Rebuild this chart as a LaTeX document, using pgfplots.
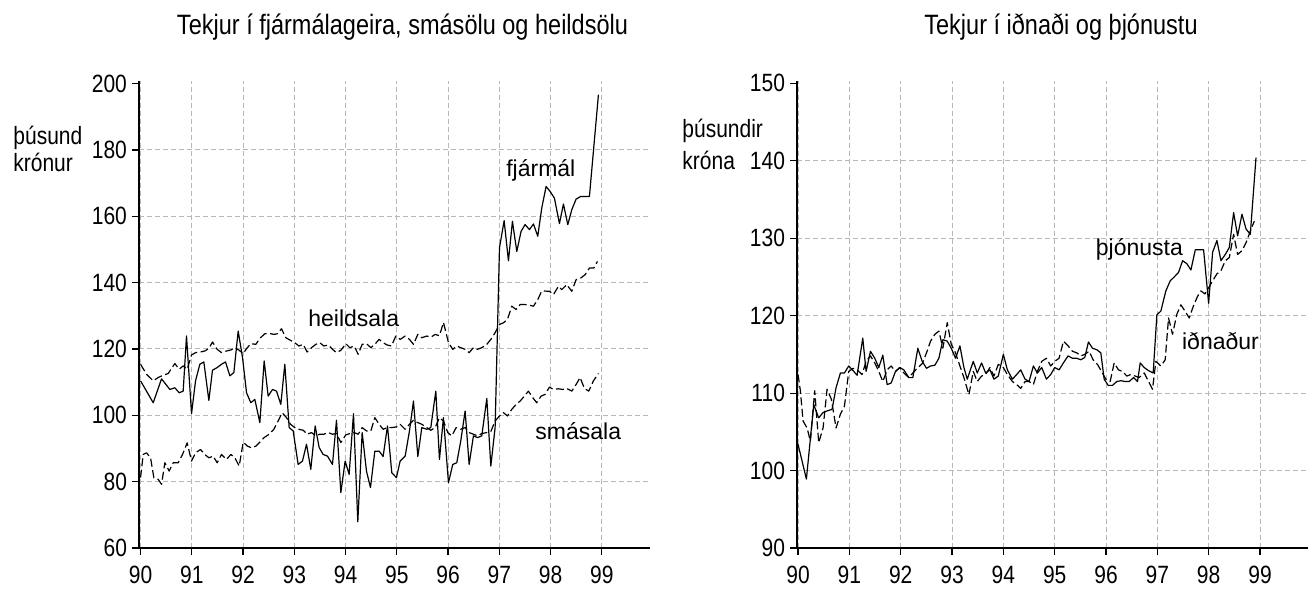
\documentclass[border=0pt]{standalone}
\usepackage{fontspec}
\setmainfont{Liberation Sans}
\newfontfamily\cond{Liberation Sans}[FakeStretch=0.84]
\usepackage{pgfplots}
\usepackage{pgfplotstable}
\pgfplotsset{compat=1.18}

\pgfplotstableread{
x y
90.000 110.4
90.247 103.8
90.410 111.0
90.572 107.8
90.670 108.3
90.754 106.8
90.832 107.3
90.897 123.9
90.995 100.5
91.073 110.4
91.157 115.4
91.235 116.1
91.333 104.5
91.404 113.6
91.495 114.4
91.580 115.4
91.658 116.1
91.743 111.9
91.821 112.9
91.905 125.4
91.990 117.4
92.068 106.8
92.152 103.8
92.230 104.8
92.328 97.8
92.412 116.4
92.490 105.8
92.575 107.8
92.653 107.3
92.737 103.3
92.815 115.4
92.900 96.3
92.978 95.3
93.075 85.2
93.160 86.2
93.238 91.3
93.322 83.7
93.407 96.8
93.485 90.3
93.563 88.2
93.648 87.7
93.745 85.2
93.823 98.5
93.908 76.7
93.992 86.2
94.070 82.2
94.155 100.5
94.239 67.9
94.324 94.8
94.408 83.2
94.486 78.2
94.571 89.2
94.655 89.2
94.733 87.6
94.818 96.8
94.902 82.7
94.993 81.2
95.065 86.2
95.163 87.7
95.247 95.3
95.325 104.3
95.410 87.6
95.488 96.3
95.585 95.8
95.663 96.3
95.761 107.3
95.832 86.7
95.910 99.3
96.008 79.7
96.092 85.2
96.170 85.7
96.248 92.3
96.333 101.3
96.411 85.2
96.495 93.8
96.573 93.3
96.658 93.8
96.756 105.1
96.834 84.7
96.918 96.3
97.003 150.5
97.094 158.7
97.178 146.6
97.256 158.5
97.341 149.4
97.425 155.5
97.503 157.5
97.588 156.0
97.666 157.7
97.750 154.0
97.828 162.5
97.913 169.0
97.991 167.5
98.075 165.5
98.173 157.8
98.251 163.7
98.336 157.5
98.414 162.0
98.498 165.2
98.589 166.0
98.674 166.0
98.758 166.0
98.934 196.7
}\fjarmal

\pgfplotstableread{
x y
90.000 115.4
90.117 112.4
90.247 110.4
90.345 111.4
90.442 112.1
90.540 112.6
90.605 114.2
90.670 115.6
90.754 113.9
90.832 114.9
90.910 113.9
90.995 118.2
91.073 118.9
91.170 119.1
91.255 119.4
91.333 120.2
91.404 122.1
91.495 119.9
91.580 118.9
91.678 119.4
91.762 119.7
91.840 120.4
91.925 119.6
92.003 118.6
92.068 120.1
92.152 121.6
92.250 121.4
92.328 123.2
92.425 124.6
92.510 124.7
92.601 124.4
92.672 124.6
92.750 126.1
92.835 123.4
92.926 122.6
93.010 121.9
93.088 120.9
93.173 121.4
93.251 119.1
93.336 120.4
93.420 121.4
93.498 121.9
93.576 120.9
93.661 121.2
93.745 119.9
93.823 118.9
93.908 119.6
94.005 121.6
94.083 120.4
94.168 120.9
94.246 118.4
94.324 121.4
94.408 121.6
94.493 120.4
94.571 121.4
94.655 122.9
94.733 121.9
94.811 121.2
94.896 120.9
94.980 123.9
95.065 122.9
95.163 123.9
95.247 122.9
95.325 121.4
95.410 124.4
95.488 123.4
95.585 123.9
95.670 123.6
95.748 124.4
95.832 124.0
95.910 128.0
96.008 121.9
96.092 119.9
96.170 120.9
96.248 120.4
96.333 119.9
96.411 118.9
96.495 120.4
96.573 119.9
96.658 120.4
96.756 121.4
96.834 122.9
96.918 124.9
97.003 127.4
97.081 127.9
97.159 128.9
97.243 132.9
97.328 131.9
97.406 133.4
97.503 133.4
97.588 133.2
97.666 132.9
97.750 134.9
97.828 137.5
97.978 137.4
98.056 136.4
98.153 138.9
98.218 137.9
98.316 139.4
98.414 137.4
98.498 140.9
98.589 141.4
98.674 142.4
98.758 144.4
98.843 144.4
98.915 146.4
}\heildsala

\pgfplotstableread{
x y
90.000 81.2
90.052 88.2
90.117 88.7
90.195 87.2
90.260 81.2
90.345 80.7
90.410 79.2
90.475 85.7
90.559 83.2
90.637 85.7
90.735 85.7
90.819 88.2
90.910 91.7
90.995 86.2
91.073 88.7
91.170 89.7
91.255 88.2
91.333 87.2
91.417 87.7
91.495 85.7
91.580 88.2
91.678 86.7
91.762 88.2
91.840 87.2
91.925 84.7
92.003 91.9
92.087 90.7
92.165 90.2
92.250 90.7
92.328 91.9
92.412 93.3
92.510 94.3
92.601 95.8
92.685 98.3
92.763 100.8
92.848 99.3
92.926 97.3
93.010 96.3
93.088 95.8
93.173 95.5
93.251 94.3
93.336 94.8
93.420 93.8
93.498 94.3
93.576 94.3
93.661 94.8
93.745 94.3
93.823 94.5
93.908 91.8
94.005 94.1
94.083 94.5
94.168 94.8
94.246 94.3
94.324 96.3
94.408 95.3
94.493 95.3
94.571 99.3
94.655 97.3
94.733 95.8
94.811 96.3
94.896 96.3
94.993 96.5
95.065 97.3
95.163 95.8
95.247 97.3
95.325 98.5
95.410 97.8
95.488 97.3
95.585 96.3
95.663 95.5
95.748 96.3
95.832 99.3
95.910 98.3
95.995 94.8
96.073 93.8
96.157 96.3
96.248 95.8
96.333 96.3
96.411 94.8
96.495 94.3
96.573 93.8
96.658 94.5
96.756 94.8
96.834 95.1
96.918 98.3
97.003 99.8
97.081 100.8
97.159 99.8
97.243 101.8
97.328 103.3
97.406 104.3
97.490 105.8
97.568 107.3
97.653 105.3
97.731 103.8
97.815 105.8
97.893 106.3
97.978 108.5
98.056 107.8
98.153 108.0
98.238 107.8
98.316 108.1
98.414 107.3
98.498 109.3
98.576 111.4
98.661 108.1
98.745 107.3
98.836 110.4
98.934 112.6
}\smasala

\pgfplotstableread{
x y
90.000 103.4
90.163 98.9
90.306 108.5
90.403 106.8
90.488 107.5
90.566 107.7
90.663 107.9
90.741 110.7
90.826 112.6
90.904 112.6
90.988 113.5
91.073 112.9
91.151 112.3
91.261 117.1
91.326 112.8
91.411 115.4
91.495 114.5
91.573 113.3
91.652 114.9
91.736 111.1
91.814 111.3
91.899 112.8
91.983 113.3
92.061 113.0
92.159 112.0
92.237 112.0
92.334 115.8
92.419 114.1
92.503 113.2
92.581 113.5
92.666 113.6
92.744 114.5
92.822 116.9
92.907 116.7
92.985 115.8
93.069 114.5
93.154 116.1
93.232 113.3
93.297 111.8
93.414 114.1
93.492 112.6
93.576 113.9
93.654 112.6
93.739 113.0
93.817 111.8
93.901 112.2
94.000 115.0
94.078 113.0
94.176 111.8
94.260 112.4
94.338 113.0
94.423 111.8
94.501 111.5
94.585 113.5
94.663 112.6
94.748 113.3
94.839 111.8
94.923 112.4
95.001 113.3
95.086 113.0
95.170 113.9
95.261 114.8
95.346 114.5
95.430 114.5
95.508 114.3
95.586 114.6
95.658 116.6
95.736 115.8
95.821 115.6
95.899 115.2
95.964 111.8
96.042 111.0
96.126 111.0
96.211 111.5
96.289 111.6
96.373 111.5
96.451 111.5
96.536 112.0
96.614 111.5
96.666 113.9
96.744 113.3
96.828 112.9
96.919 112.6
96.991 120.1
97.069 120.6
97.166 123.2
97.251 124.5
97.329 125.0
97.414 125.6
97.492 127.1
97.576 126.7
97.654 125.9
97.739 128.5
97.817 128.5
97.901 128.5
97.999 121.6
98.077 128.2
98.161 129.7
98.239 127.1
98.324 127.9
98.402 128.8
98.486 133.3
98.564 130.3
98.649 133.1
98.727 131.2
98.811 130.5
98.922 140.4
}\thjonusta

\pgfplotstableread{
x y
90.000 112.4
90.046 110.3
90.098 106.4
90.176 105.5
90.241 103.8
90.325 110.3
90.403 103.6
90.488 105.5
90.566 110.5
90.650 109.2
90.741 105.5
90.826 107.3
90.904 108.3
90.988 112.8
91.073 113.2
91.151 113.0
91.248 112.4
91.326 114.1
91.411 114.8
91.495 113.9
91.573 112.8
91.652 111.5
91.736 113.0
91.814 113.5
91.899 112.8
91.983 113.3
92.061 112.6
92.159 112.0
92.237 112.6
92.321 113.2
92.419 113.8
92.503 115.2
92.581 116.7
92.666 117.6
92.744 118.0
92.822 115.8
92.907 119.1
92.985 116.3
93.069 115.2
93.154 113.5
93.232 112.0
93.329 109.8
93.414 112.8
93.492 111.5
93.576 112.2
93.654 112.4
93.739 113.3
93.817 112.2
93.901 113.7
94.000 113.3
94.078 112.4
94.176 111.5
94.260 111.1
94.338 110.6
94.423 111.5
94.501 111.5
94.585 111.1
94.663 112.8
94.748 114.1
94.839 114.5
94.923 113.5
95.001 114.1
95.086 114.5
95.170 116.7
95.261 116.1
95.346 115.4
95.430 115.2
95.508 114.8
95.586 115.0
95.671 115.4
95.749 114.3
95.834 113.7
95.912 112.8
95.996 111.8
96.081 111.5
96.159 113.9
96.243 113.0
96.321 112.8
96.406 112.2
96.484 112.4
96.568 112.2
96.646 112.0
96.744 112.6
96.828 111.5
96.906 110.5
96.971 114.1
97.069 113.5
97.153 114.3
97.218 119.7
97.296 117.6
97.381 120.2
97.459 121.4
97.537 120.6
97.622 119.7
97.700 121.2
97.784 122.5
97.849 123.2
97.927 122.8
98.077 124.5
98.161 125.4
98.239 125.8
98.324 127.1
98.402 127.5
98.486 130.5
98.564 127.9
98.649 128.4
98.727 129.4
98.811 130.9
98.889 132.2
}\idnadur

\tikzset{
  lab/.style={font=\fontsize{11.5pt}{13pt}\selectfont, inner sep=0pt},
  unit/.style={anchor=base west, inner sep=0pt, font=\cond\fontsize{12.5pt}{14pt}\selectfont},
  ttl/.style={anchor=base, inner sep=0pt, font=\cond\fontsize{14pt}{16pt}\selectfont},
}
\pgfplotsset{
  panel/.style={
    scale only axis, width=255.5pt, height=233.5pt, anchor=south west,
    axis x line*=bottom, axis y line*=left,
    axis line style={line width=1.2pt, black, -},
    tick align=outside, major tick length=3.5pt,
    tick style={black, line width=0.6pt},
    xtick={90,...,99},
    xmajorgrids=true, ymajorgrids=true,
    major grid style={black!28, line width=0.5pt, dash pattern=on 2.5pt off 1.5pt},
    ticklabel style={font=\cond\fontsize{12.5pt}{14pt}\selectfont},
    xticklabel style={yshift=-2pt},
    yticklabel style={xshift=1pt},
    /pgf/number format/assume math mode=true,
    /pgf/number format/1000 sep={},
    extra tick style={grid=none},
    clip=false,
  },
  ser/.style={black, line width=0.6pt, line join=round},
  dser/.style={black, line width=0.6pt, line join=round, dash pattern=on 4pt off 1.75pt},
}

\begin{document}
\begin{tikzpicture}
\begin{axis}[panel, at={(69.5pt,21pt)},
  xmin=89.97, xmax=99.94, ymin=60, ymax=200.8,
  ytick={60,80,...,180}, extra y ticks={200}]
\addplot[ser] table {\fjarmal};
\addplot[dser] table {\heildsala};
\addplot[dser] table {\smasala};
\node[lab] at (axis cs:97.81,173.7) {fjármál};
\node[lab] at (axis cs:94.16,129.4) {heildsala};
\node[lab] at (axis cs:98.54,95.2) {smásala};
\end{axis}
\begin{axis}[panel, at={(398.5pt,21pt)},
  xmin=89.98, xmax=99.935, ymin=90, ymax=150.3,
  ytick={90,100,...,140}, extra y ticks={150}]
\addplot[ser] table {\thjonusta};
\addplot[dser] table {\idnadur};
\node[lab] at (axis cs:96.65,128.6) {þjónusta};
\node[lab] at (axis cs:98.23,116.7) {iðnaður};
\end{axis}
\node[ttl] at (201.25pt,277.5pt) {Tekjur í fjármálageira, smásölu og heildsölu};
\node[ttl] at (530.5pt,277.5pt) {Tekjur í iðnaði og þjónustu};
\node[unit] at (6.5pt,222.5pt) {þúsund};
\node[unit] at (6.5pt,209pt) {krónur};
\node[unit] at (341pt,226pt) {þúsundir};
\node[unit] at (341pt,210pt) {króna};
\pgfresetboundingbox
\useasboundingbox (0,0) rectangle (656.5pt,295pt);
\end{tikzpicture}
\end{document}
